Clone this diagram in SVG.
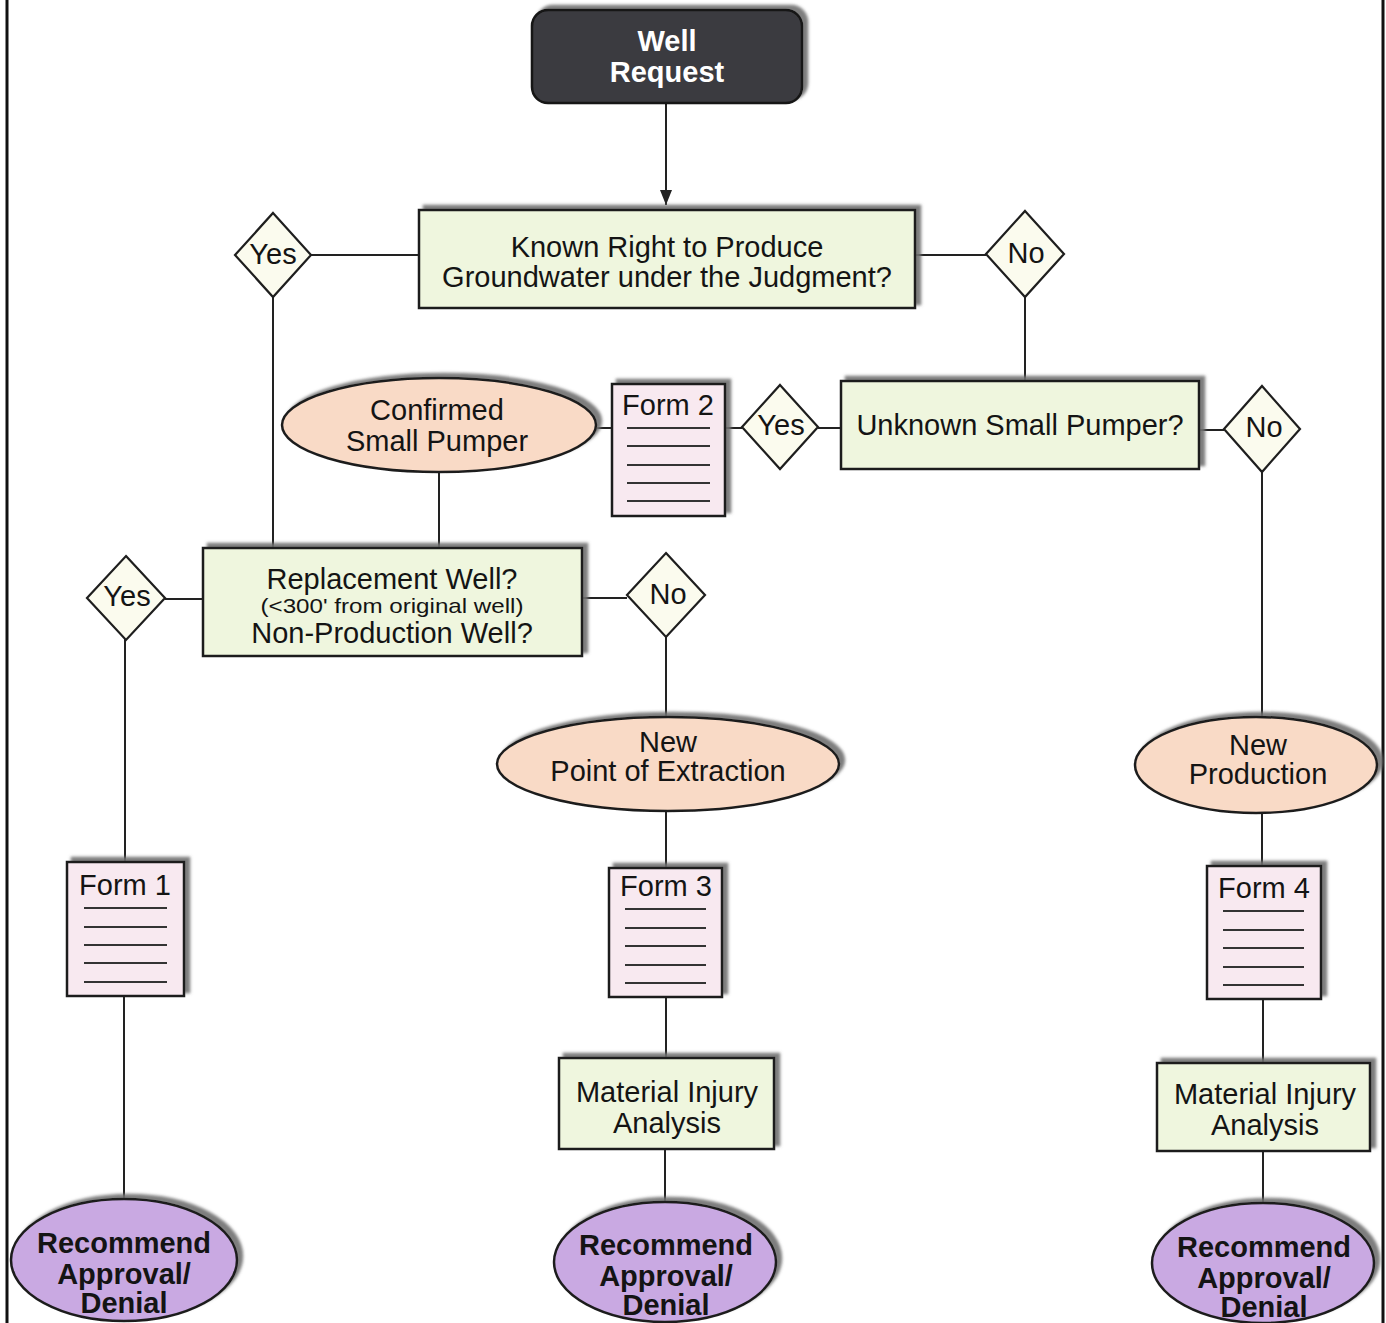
<svg xmlns="http://www.w3.org/2000/svg" width="1386" height="1323" viewBox="0 0 1386 1323">
<defs>
<filter id="sh" x="-10%" y="-20%" width="120%" height="140%">
<feDropShadow dx="5" dy="-4" stdDeviation="1.5" flood-color="#6f6f6f" flood-opacity="0.9"/>
</filter>
<marker id="arr" markerWidth="16" markerHeight="16" refX="15" refY="8" orient="auto" markerUnits="userSpaceOnUse">
<path d="M0,2 L15,8 L0,14 Z" fill="#222"/>
</marker>
</defs>
<style>
text{font-family:"Liberation Sans",Arial,sans-serif;font-size:29px;fill:#141414;text-anchor:middle}
.b{font-weight:bold}
.w{fill:#fff}
.box{fill:#eff6de;stroke:#1e1e1e;stroke-width:2.5;filter:url(#sh)}
.dark{fill:#3b3b3f;stroke:#151515;stroke-width:2.5;filter:url(#sh)}
.peach{fill:#f9dac6;stroke:#1e1e1e;stroke-width:2.5;filter:url(#sh)}
.purp{fill:#c9a9e2;stroke:#1e1e1e;stroke-width:2.5;filter:url(#sh)}
.form{fill:#f8e9f0;stroke:#1e1e1e;stroke-width:2.5;filter:url(#sh)}
.dia{fill:#fbfbee;stroke:#1e1e1e;stroke-width:2.2}
.fl{stroke:#333;stroke-width:2}
.c{stroke:#222;stroke-width:2;fill:none}
.sm{font-size:21px}
</style>
<rect width="1386" height="1323" fill="#fff"/>
<line x1="7" y1="0" x2="7" y2="1323" stroke="#111" stroke-width="3"/>
<line x1="1383" y1="0" x2="1383" y2="1323" stroke="#111" stroke-width="3"/>

<g id="connectors">
<line class="c" x1="666" y1="103" x2="666" y2="205" marker-end="url(#arr)"/>
<line class="c" x1="311" y1="255" x2="419" y2="255"/>
<line class="c" x1="273" y1="297" x2="273" y2="548"/>
<line class="c" x1="915" y1="255" x2="986" y2="255"/>
<line class="c" x1="1025" y1="296" x2="1025" y2="381"/>
<line class="c" x1="818" y1="428" x2="841" y2="428"/>
<line class="c" x1="725" y1="428" x2="742" y2="428"/>
<line class="c" x1="596" y1="428" x2="612" y2="428"/>
<line class="c" x1="439" y1="472" x2="439" y2="548"/>
<line class="c" x1="1199" y1="430" x2="1224" y2="430"/>
<line class="c" x1="1262" y1="471" x2="1262" y2="718"/>
<line class="c" x1="165" y1="599" x2="203" y2="599"/>
<line class="c" x1="125" y1="639" x2="125" y2="862"/>
<line class="c" x1="582" y1="598" x2="627" y2="598"/>
<line class="c" x1="666" y1="637" x2="666" y2="718"/>
<line class="c" x1="666" y1="811" x2="666" y2="868"/>
<line class="c" x1="666" y1="997" x2="666" y2="1058"/>
<line class="c" x1="665" y1="1149" x2="665" y2="1203"/>
<line class="c" x1="124" y1="996" x2="124" y2="1198"/>
<line class="c" x1="1262" y1="813" x2="1262" y2="866"/>
<line class="c" x1="1263" y1="999" x2="1263" y2="1063"/>
<line class="c" x1="1263" y1="1151" x2="1263" y2="1203"/>
</g>

<g id="well-request">
<rect class="dark" x="532" y="10" width="270" height="93" rx="16"/>
<text class="b w" x="667" y="51">Well</text>
<text class="b w" x="667" y="82">Request</text>
</g>

<g id="known-right">
<rect class="box" x="419" y="210" width="496" height="98"/>
<text x="667" y="257">Known Right to Produce</text>
<text x="667" y="287">Groundwater under the Judgment?</text>
</g>

<g id="yes1">
<polygon class="dia" points="273,213 311,255 273,297 235,255"/>
<text x="273" y="264">Yes</text>
</g>

<g id="no1">
<polygon class="dia" points="1025,211 1064,254 1025,297 986,254"/>
<text x="1026" y="263">No</text>
</g>

<g id="unknown-small-pumper">
<rect class="box" x="841" y="381" width="358" height="88"/>
<text x="1020" y="435">Unknown Small Pumper?</text>
</g>

<g id="yes2">
<polygon class="dia" points="780,385 818,427 780,469 742,427"/>
<text x="781" y="435">Yes</text>
</g>

<g id="no2">
<polygon class="dia" points="1262,386 1300,429 1262,472 1224,429"/>
<text x="1264" y="437">No</text>
</g>

<g id="form2">
<rect class="form" x="612" y="384" width="113" height="132"/>
<text x="668" y="415">Form 2</text>
<line class="fl" x1="627" y1="428" x2="710" y2="428"/>
<line class="fl" x1="627" y1="446" x2="710" y2="446"/>
<line class="fl" x1="627" y1="465" x2="710" y2="465"/>
<line class="fl" x1="627" y1="483" x2="710" y2="483"/>
<line class="fl" x1="627" y1="501" x2="710" y2="501"/>
</g>

<g id="confirmed-small-pumper">
<ellipse class="peach" cx="439" cy="425" rx="157" ry="47"/>
<text x="437" y="420">Confirmed</text>
<text x="437" y="451">Small Pumper</text>
</g>

<g id="replacement-well">
<rect class="box" x="203" y="548" width="379" height="108"/>
<text x="392" y="589">Replacement Well?</text>
<text class="sm" x="392" y="613" textLength="263" lengthAdjust="spacingAndGlyphs">(&lt;300' from original well)</text>
<text x="392" y="643">Non-Production Well?</text>
</g>

<g id="yes3">
<polygon class="dia" points="126,556 165,598 126,640 87,598"/>
<text x="127" y="606">Yes</text>
</g>

<g id="no3">
<polygon class="dia" points="666,553 705,595 666,637 627,595"/>
<text x="668" y="604">No</text>
</g>

<g id="new-point-of-extraction">
<ellipse class="peach" cx="668" cy="764" rx="171" ry="47"/>
<text x="668" y="752">New</text>
<text x="668" y="781">Point of Extraction</text>
</g>

<g id="new-production">
<ellipse class="peach" cx="1256" cy="765" rx="121" ry="48"/>
<text x="1258" y="755">New</text>
<text x="1258" y="784">Production</text>
</g>

<g id="form1">
<rect class="form" x="67" y="862" width="117" height="134"/>
<text x="125" y="895">Form 1</text>
<line class="fl" x1="84" y1="908" x2="167" y2="908"/>
<line class="fl" x1="84" y1="927" x2="167" y2="927"/>
<line class="fl" x1="84" y1="945" x2="167" y2="945"/>
<line class="fl" x1="84" y1="963" x2="167" y2="963"/>
<line class="fl" x1="84" y1="982" x2="167" y2="982"/>
</g>

<g id="form3">
<rect class="form" x="609" y="868" width="113" height="129"/>
<text x="666" y="896">Form 3</text>
<line class="fl" x1="625" y1="909" x2="706" y2="909"/>
<line class="fl" x1="625" y1="928" x2="706" y2="928"/>
<line class="fl" x1="625" y1="946" x2="706" y2="946"/>
<line class="fl" x1="625" y1="965" x2="706" y2="965"/>
<line class="fl" x1="625" y1="983" x2="706" y2="983"/>
</g>

<g id="form4">
<rect class="form" x="1207" y="866" width="114" height="133"/>
<text x="1264" y="898">Form 4</text>
<line class="fl" x1="1223" y1="911" x2="1304" y2="911"/>
<line class="fl" x1="1223" y1="930" x2="1304" y2="930"/>
<line class="fl" x1="1223" y1="948" x2="1304" y2="948"/>
<line class="fl" x1="1223" y1="967" x2="1304" y2="967"/>
<line class="fl" x1="1223" y1="985" x2="1304" y2="985"/>
</g>

<g id="material-injury-mid">
<rect class="box" x="559" y="1058" width="215" height="91"/>
<text x="667" y="1102">Material Injury</text>
<text x="667" y="1133">Analysis</text>
</g>

<g id="material-injury-right">
<rect class="box" x="1157" y="1063" width="213" height="88"/>
<text x="1265" y="1104">Material Injury</text>
<text x="1265" y="1135">Analysis</text>
</g>

<g id="recommend-left">
<ellipse class="purp" cx="124" cy="1260" rx="113" ry="61"/>
<text class="b" x="124" y="1253">Recommend</text>
<text class="b" x="124" y="1284">Approval/</text>
<text class="b" x="124" y="1313">Denial</text>
</g>

<g id="recommend-mid">
<ellipse class="purp" cx="665" cy="1262" rx="111" ry="60"/>
<text class="b" x="666" y="1255">Recommend</text>
<text class="b" x="666" y="1286">Approval/</text>
<text class="b" x="666" y="1315">Denial</text>
</g>

<g id="recommend-right">
<ellipse class="purp" cx="1263" cy="1263" rx="111" ry="60"/>
<text class="b" x="1264" y="1257">Recommend</text>
<text class="b" x="1264" y="1288">Approval/</text>
<text class="b" x="1264" y="1317">Denial</text>
</g>
</svg>
